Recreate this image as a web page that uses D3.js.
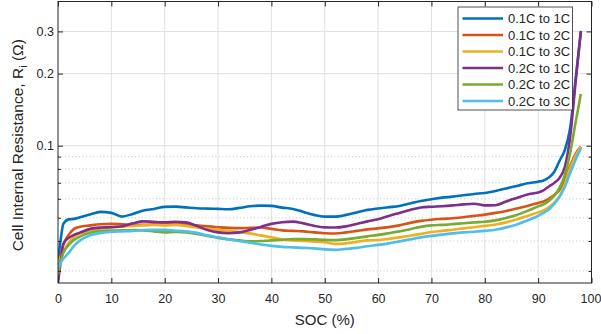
<!DOCTYPE html>
<html><head><meta charset="utf-8">
<script src="https://cdn.jsdelivr.net/npm/d3@7"></script>
<style>
body{margin:0;background:#fff;}
svg{display:block;}
text{font-family:"Liberation Sans", Arial, Helvetica, sans-serif;fill:#262626;}
</style>
</head><body><svg id="c" width="601" height="334"></svg>
<script>
// ---------------- data ----------------
const soc = [0,0.5,1,2,3,4,6,8,10,12,14,16,18,20,22,24,26,28,30,32,34,36,38,40,42,44,46,48,50,52,54,56,58,60,62,64,66,68,70,72,74,76,78,80,82,84,86,88,90,91,92,93,94,95,96,97,98];

const r01to1C = [0.03273,0.04043,0.04715,0.04924,0.04947,0.05019,0.05166,0.05291,0.05241,0.05058,0.05191,0.05358,0.05445,0.05551,0.05567,0.05524,0.05482,0.05461,0.05445,0.05429,0.05498,0.05589,0.05621,0.05605,0.05514,0.05445,0.05291,0.05141,0.05058,0.05058,0.05141,0.05266,0.05394,0.05471,0.05535,0.05605,0.0574,0.0588,0.05977,0.06069,0.06128,0.06211,0.06289,0.0635,0.06473,0.0663,0.06791,0.06969,0.07077,0.0716,0.07368,0.07768,0.08634,0.09596,0.1185,0.1879,0.298];

const r01to2C = [0.0309,0.03501,0.03853,0.04242,0.04494,0.04581,0.04648,0.04701,0.04715,0.04701,0.04679,0.0467,0.04692,0.04715,0.04715,0.04692,0.04648,0.04603,0.04568,0.04538,0.04525,0.04538,0.04551,0.04494,0.0443,0.04409,0.04387,0.04345,0.04312,0.04296,0.04345,0.04409,0.04472,0.04516,0.04572,0.04648,0.04761,0.04853,0.04909,0.04947,0.04981,0.05029,0.05092,0.05156,0.05241,0.05342,0.05471,0.05605,0.05768,0.05852,0.05994,0.06229,0.06535,0.07263,0.08229,0.09229,0.09904];

const r01to3C = [0.03242,0.03434,0.03603,0.03928,0.04162,0.04283,0.0443,0.04516,0.0456,0.0459,0.04626,0.04657,0.0467,0.04648,0.0467,0.04626,0.0456,0.04494,0.04451,0.04409,0.04354,0.04304,0.04222,0.04142,0.04063,0.04024,0.04004,0.03977,0.03954,0.03891,0.0391,0.03966,0.04024,0.04035,0.04083,0.04142,0.0421,0.04283,0.04358,0.04409,0.0446,0.04516,0.04568,0.04626,0.04684,0.04784,0.04924,0.05092,0.05266,0.05368,0.05524,0.05768,0.06139,0.06922,0.08073,0.0906,0.09904];

const r02to1C = [0.02671,0.03273,0.03891,0.04122,0.04242,0.04325,0.04494,0.04551,0.04568,0.04612,0.04738,0.0483,0.04807,0.04793,0.04816,0.04784,0.04626,0.04451,0.04345,0.04312,0.04345,0.04451,0.04581,0.04715,0.04793,0.04821,0.04738,0.04626,0.0456,0.04551,0.04603,0.04715,0.0483,0.04933,0.05092,0.05241,0.05394,0.05524,0.05562,0.05589,0.05632,0.05686,0.05724,0.05632,0.05643,0.05852,0.06052,0.06259,0.0638,0.06504,0.06758,0.06989,0.07333,0.0815,0.1087,0.1826,0.3017];

const r02to2C = [0.0289,0.03273,0.03569,0.03853,0.04043,0.04162,0.04325,0.04409,0.04422,0.0443,0.04439,0.0443,0.04387,0.04345,0.04366,0.04345,0.04283,0.04202,0.04122,0.04063,0.04024,0.03985,0.03997,0.04024,0.04043,0.04071,0.04071,0.04063,0.04043,0.04035,0.04063,0.04122,0.04182,0.04242,0.04312,0.04387,0.04481,0.04581,0.04648,0.0467,0.04706,0.04747,0.04784,0.04816,0.04876,0.04995,0.05141,0.05342,0.05578,0.05686,0.0588,0.06169,0.06662,0.07547,0.0932,0.1244,0.1643];

const r02to3C = [0.0309,0.03242,0.03369,0.03569,0.03817,0.04004,0.04222,0.04325,0.04366,0.04387,0.04409,0.04443,0.04451,0.04451,0.04417,0.04387,0.04325,0.04222,0.04142,0.04063,0.03997,0.03936,0.03872,0.03817,0.0378,0.03762,0.03744,0.03726,0.0369,0.03673,0.03708,0.03744,0.03806,0.03853,0.0391,0.03985,0.04063,0.04142,0.04202,0.04251,0.04304,0.04345,0.04375,0.04409,0.0446,0.0456,0.04692,0.04876,0.05092,0.05241,0.05419,0.05713,0.0611,0.06726,0.07694,0.08717,0.09753];

const seriesNames = ["0.1C to 1C","0.1C to 2C","0.1C to 3C","0.2C to 1C","0.2C to 2C","0.2C to 3C"];
const seriesValues = [r01to1C, r01to2C, r01to3C, r02to1C, r02to2C, r02to3C];
const seriesColors = ["#0072BD","#D95319","#EDB120","#7E2F8E","#77AC30","#4DBEEE"];

const xTicks = [0,10,20,30,40,50,60,70,80,90,100];
const yMajorTicks = [0.1,0.2,0.3];
const yMinorTicks = [0.03,0.04,0.05,0.06,0.07,0.08,0.09];
const yDomain = [0.02671, 0.4];
const xDomain = [0, 100];

// ---------------- layout ----------------
const L = 58, R = 591.5, T = 1.5, B = 283;
const svg = d3.select("#c");
const x = d3.scaleLinear().domain(xDomain).range([L, R]);
const y = d3.scaleLog().domain(yDomain).range([B, T]);

// grid
const grid = svg.append("g");
grid.selectAll("line.gx").data(xTicks.slice(1, -1)).join("line")
  .attr("x1", d => x(d)).attr("x2", d => x(d)).attr("y1", T).attr("y2", B)
  .attr("stroke", "#dfdfdf").attr("stroke-width", 1);
grid.selectAll("line.gy").data(yMajorTicks).join("line")
  .attr("x1", L).attr("x2", R).attr("y1", d => y(d)).attr("y2", d => y(d))
  .attr("stroke", "#dfdfdf").attr("stroke-width", 1);
grid.selectAll("line.gm").data(yMinorTicks).join("line")
  .attr("x1", L).attr("x2", R).attr("y1", d => y(d)).attr("y2", d => y(d))
  .attr("stroke", "#c8c8c8").attr("stroke-width", 1).attr("stroke-dasharray", "1,2.5");

// lines
svg.append("clipPath").attr("id", "clip").append("rect")
  .attr("x", L).attr("y", T).attr("width", R - L).attr("height", B - T);
const line = d3.line().x((d, i) => x(soc[i])).y(d => y(d)).curve(d3.curveMonotoneX);
const lg = svg.append("g").attr("clip-path", "url(#clip)");
seriesValues.forEach((vals, k) => {
  lg.append("path").datum(vals).attr("d", line)
    .attr("fill", "none").attr("stroke", seriesColors[k]).attr("stroke-width", 2.6)
    .attr("stroke-linejoin", "round").attr("stroke-linecap", "butt");
});

// axes
const axCol = "#262626";
const gB = svg.append("g").attr("transform", `translate(0,${B})`)
  .call(d3.axisBottom(x).tickValues(xTicks).tickSize(-5).tickPadding(11));
const gT = svg.append("g").attr("transform", `translate(0,${T})`)
  .call(d3.axisTop(x).tickValues(xTicks).tickSize(-5).tickFormat(""));
const gL = svg.append("g").attr("transform", `translate(${L},0)`)
  .call(d3.axisLeft(y).tickValues(yMajorTicks).tickFormat(d3.format(".1f")).tickSize(-5).tickPadding(4));
const gLm = svg.append("g").attr("transform", `translate(${L},0)`)
  .call(d3.axisLeft(y).tickValues(yMinorTicks).tickFormat("").tickSize(-3));
const gR = svg.append("g").attr("transform", `translate(${R},0)`)
  .call(d3.axisRight(y).tickValues(yMajorTicks).tickFormat("").tickSize(-5));
const gRm = svg.append("g").attr("transform", `translate(${R},0)`)
  .call(d3.axisRight(y).tickValues(yMinorTicks).tickFormat("").tickSize(-3));
[gB, gT, gL, gLm, gR, gRm].forEach(g => {
  g.select(".domain").remove();
  g.selectAll(".tick line").attr("stroke", axCol);
  g.selectAll(".tick text").attr("fill", axCol).style("font-size", "12.5px")
    .style("font-family", '"Liberation Sans", Arial, sans-serif');
});
// keep the last x label inside the page
gB.selectAll(".tick text").filter(d => d === 100).attr("dx", "-1");
svg.append("rect").attr("x", L).attr("y", T).attr("width", R - L).attr("height", B - T)
  .attr("fill", "none").attr("stroke", axCol).attr("stroke-width", 1);

// axis labels
svg.append("text").attr("x", (L + R) / 2).attr("y", 325).attr("text-anchor", "middle")
  .style("font-size", "15px").text("SOC (%)");
const yl = svg.append("text").attr("transform", `translate(23,${(T + B) / 2 + 3}) rotate(-90)`)
  .attr("text-anchor", "middle").style("font-size", "15.5px");
yl.append("tspan").text("Cell Internal Resistance, R");
yl.append("tspan").attr("dy", "4").style("font-size", "11px").text("i");
yl.append("tspan").attr("dy", "-4").text(" (\u03A9)");

// legend
const lgX = 458, lgY = 7, lgW = 114.5, lgH = 103;
const leg = svg.append("g");
leg.append("rect").attr("x", lgX).attr("y", lgY).attr("width", lgW).attr("height", lgH)
  .attr("fill", "#fff").attr("stroke", axCol).attr("stroke-width", 0.8);
seriesNames.forEach((n, k) => {
  const yy = lgY + 11.5 + k * 16.5;
  leg.append("line").attr("x1", lgX + 4.5).attr("x2", lgX + 45).attr("y1", yy).attr("y2", yy)
    .attr("stroke", seriesColors[k]).attr("stroke-width", 2.6);
  leg.append("text").attr("x", lgX + 50).attr("y", yy).attr("dy", "0.36em")
    .style("font-size", "13px").text(n);
});
</script></body></html>
